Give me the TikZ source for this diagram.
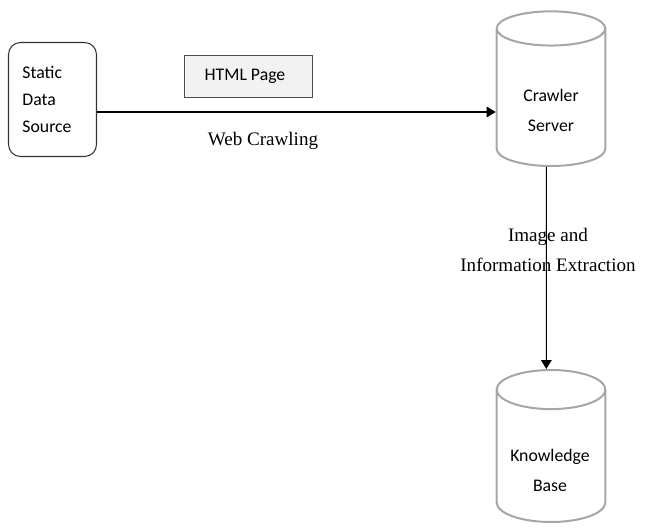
\documentclass[tikz,border=0pt]{standalone}
\usepackage{fontspec}
\setmainfont{Carlito}
\newfontfamily\labelfont{Liberation Serif}
\usetikzlibrary{arrows.meta, shapes.geometric}

\begin{document}
\begin{tikzpicture}[x = 0.75pt, y = -0.75pt,
        box/.style = {draw = black!80, line width = 0.8pt},
        cyl/.style = {cylinder, shape border rotate = 90, anchor = south, draw = black!35, line width = 1.5pt, minimum width = 81.5pt},
        txt/.style = {font = \fontsize{13.3}{22.5}\selectfont, align = center},
        flow/.style = {black, line width = 0.8pt, -{Triangle[length = 6.75pt, width = 8pt]}},
        caption/.style = {font = \labelfont\fontsize{14.3}{22.5}\selectfont, align = center}]
            \useasboundingbox (0, 0) rectangle (651, 528);

            \coordinate (pos_src) at (52.5, 99.5);
            \coordinate (pos_html) at (248.5, 76.5);
            \coordinate (base_crawler) at (551, 167);
            \coordinate (base_kb) at (551, 523);

            \node[box, rounded corners = 9pt, minimum width = 66pt, minimum height = 85.5pt] (src) at (pos_src) {};
            \node[txt, align = left, font = \fontsize{13.3}{20.25}\selectfont] (src_text) at (47, 99) {Static\\Data\\Source};

            \node[box, draw = black!70, fill = black!5, minimum width = 96pt, minimum height = 31.5pt] (html) at (pos_html) {};
            \node[txt] (html_text) at (245, 76) {HTML Page};

            \node[cyl, aspect = 3.85, minimum height = 116pt] (crawler) at (base_crawler) {};
            \node[txt] (crawler_text) at (551, 110) {Crawler\\Server};

            \node[cyl, aspect = 4.4, minimum height = 114pt] (kb) at (base_kb) {};
            \node[txt] (kb_text) at (550, 470) {Knowledge\\Base};

            \coordinate (src_out) at (src.east |- 0, 112);
            \draw[flow](src_out) -- (src_out -| crawler.west);
            \node[caption] (crawl_label) at (263, 141) {Web Crawling};

            \draw[flow]([xshift = -3.5pt]crawler.south) -- ([xshift = -3.5pt]kb.north);
            \node[caption] (extract_label) at (548, 250) {Image and\\Information Extraction};
        \end{tikzpicture}
\end{document}
